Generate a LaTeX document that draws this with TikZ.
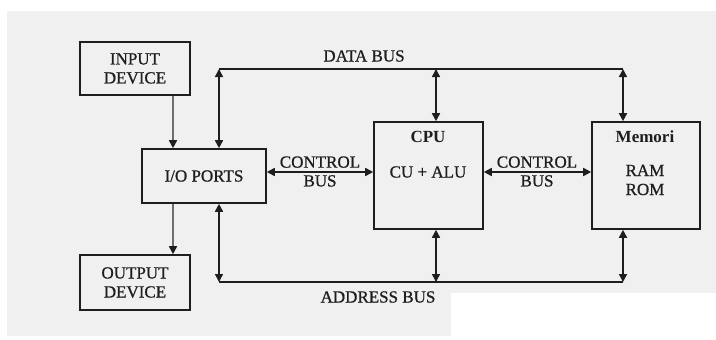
\documentclass[tikz,border=0pt]{standalone}
\usepackage{fontspec}
\setmainfont{Liberation Serif}
\newfontfamily\tebalfont{Liberation Serif}[FakeBold=0.8]
\usepackage{tikz}
\usetikzlibrary{arrows.meta}

\definecolor{bggray}{RGB}{240,240,240}
\definecolor{linegray}{RGB}{110,110,110}
\definecolor{inkblack}{RGB}{30,30,30}

\tikzset{
    blok/.style={draw=inkblack, line width=1.6pt, inner sep=0pt},
    bus/.style={draw=inkblack, line width=1.6pt},
    busarrow/.style={bus, {Triangle[width=8pt,length=8pt]}-{Triangle[width=8pt,length=8pt]}},
    grayarrow/.style={draw=linegray, line width=1.6pt, -{Triangle[width=8pt,length=8pt,color=inkblack]}},
    teks/.style={font=\tebalfont\fontsize{17}{19}\selectfont, align=center, text=inkblack, inner sep=0pt},
    tebal/.style={teks, font=\rmfamily\fontsize{17}{19}\selectfont\bfseries}
}

\begin{document}
\begin{tikzpicture}[x=1pt, y=-1pt]
                        % 背景
                        \useasboundingbox (0,0) rectangle (716,340);
                        \fill[bggray] (7,11) rectangle (716,336);
                        \fill[white] (451,293) rectangle (716,336);

                        % 放置方框
                        \node[blok, minimum width=110pt, minimum height=53pt] (input) at (135,68.5) {};
                        \node[blok, minimum width=124pt, minimum height=54pt] (io) at (204,176) {};
                        \node[blok, minimum width=110pt, minimum height=55pt] (output) at (135,282.5) {};
                        \node[blok, minimum width=109pt, minimum height=107pt] (cpu) at (428.5,175.5) {};
                        \node[blok, minimum width=108pt, minimum height=107pt] (mem) at (646,175.5) {};

                        % 方框里的文字
                        \node[teks] (inputtext) at (input) {INPUT\\DEVICE};
                        \node[teks] (iotext) at (io) {I/O PORTS};
                        \node[teks] (outputtext) at (output) {OUTPUT\\DEVICE};
                        \node[tebal] (cputitle) at (428,137) {CPU};
                        \node[teks] (cputext) at (428,172) {CU + ALU};
                        \node[tebal] (memtitle) at (645,137) {Memori};
                        \node[teks] (memtext) at (645,180) {RAM\\ROM};

                        % 总线上的点
                        \coordinate (d1) at (219,69);
                        \coordinate (d2) at (436,69);
                        \coordinate (d3) at (623,69);
                        \coordinate (a1) at (219,282);
                        \coordinate (a2) at (436,282);
                        \coordinate (a3) at (623,282);

                        % 数据总线
                        \draw[bus] (d1) -- (d3);
                        \draw[busarrow] (d1) -- (d1 |- io.north);
                        \draw[busarrow] (d2) -- (d2 |- cpu.north);
                        \draw[busarrow] (d3) -- (d3 |- mem.north);
                        \node[teks] (datalabel) at (364,56) {DATA BUS};

                        % 地址总线
                        \draw[bus] (a1) -- (a3);
                        \draw[busarrow] (a1) -- (a1 |- io.south);
                        \draw[busarrow] (a2) -- (a2 |- cpu.south);
                        \draw[busarrow] (a3) -- (a3 |- mem.south);
                        \node[teks] (addrlabel) at (378,297) {ADDRESS BUS};

                        % 控制总线
                        \draw[busarrow] ([yshift=4pt]io.east) -- ([yshift=4pt]io.east -| cpu.west);
                        \node[teks, anchor=south] (ctrlA) at (320,168) {CONTROL};
                        \node[teks, anchor=north] (busA) at (320,175) {BUS};
                        \draw[busarrow] ([yshift=3.5pt]cpu.east) -- ([yshift=3.5pt]cpu.east -| mem.west);
                        \node[teks, anchor=south] (ctrlB) at (537,168) {CONTROL};
                        \node[teks, anchor=north] (busB) at (537,175) {BUS};

                        % 输入输出
                        \draw[grayarrow] ([xshift=38pt]input.south) -- ([xshift=38pt]input.south |- io.north);
                        \draw[grayarrow] ([xshift=38pt]output.north |- io.south) -- ([xshift=38pt]output.north);
                    \end{tikzpicture}
\end{document}
